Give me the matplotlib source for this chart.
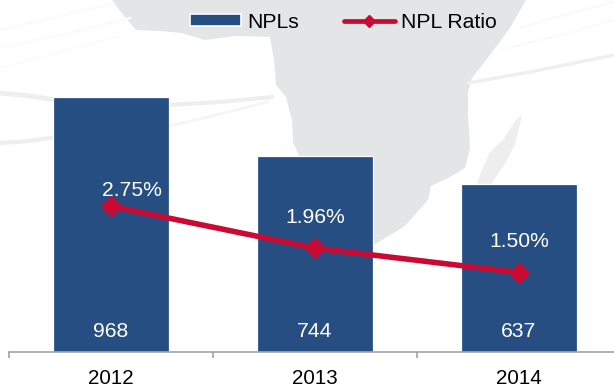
import matplotlib
matplotlib.use('Agg')
import matplotlib.pyplot as plt
from matplotlib.patches import Patch, Polygon
from matplotlib.lines import Line2D

plt.rcParams['font.family'] = ['Liberation Sans', 'DejaVu Sans']

years = ['2012', '2013', '2014']
npls = [968, 744, 637]
npl_ratio = [2.75, 1.96, 1.50]
ratio_labels = ['2.75%', '1.96%', '1.50%']

W, H = 614, 390
blue = '#264e82'
red = '#cb0a33'
map_grey = '#e4e5e7'

fig = plt.figure(figsize=(W / 100, H / 100), dpi=100)

# watermark behind the chart, in pixel coords
bg = fig.add_axes([0, 0, 1, 1], zorder=-1)
bg.set_xlim(0, W)
bg.set_ylim(H, 0)
bg.axis('off')

africa = [(112, 0), (124, 16), (136, 30), (160, 31), (182, 33), (205, 40), (235, 36), (270, 37),
          (274, 60), (276, 85), (286, 97), (292, 120), (293, 142), (300, 158), (330, 210),
          (372, 246), (405, 226), (428, 200), (431, 186), (448, 178), (465, 168), (470, 148),
          (468, 115), (468, 92), (472, 78), (490, 55), (510, 28), (526, 0)]
bg.add_patch(Polygon(africa, closed=True, fc=map_grey, ec='none'))
madagascar = [(522, 115), (516, 120), (503, 140), (490, 152), (482, 170), (476, 186), (490, 186), (504, 165),
              (515, 145)]
bg.add_patch(Polygon(madagascar, closed=True, fc='#eeeeef', ec='none'))

streaks = [([0, 30, 56], [93, 96, 100], 3.5, '#eeeeee'),
           ([168, 220, 272], [105, 102, 97], 3.0, '#eeeeee'),
           ([0, 30, 56], [143, 141, 137], 3.0, '#eeeeee'),
           ([170, 220, 268], [126, 114, 102], 2.0, '#f5f5f5'),
           ([468, 530, 614], [83, 72, 55], 2.5, '#efeff0'),
           ([0, 60, 112], [30, 16, 4], 2.0, '#fbfbfb'),
           ([0, 70, 130], [48, 33, 18], 2.0, '#fbfbfb'),
           ([0, 60, 120], [68, 52, 36], 2.0, '#fcfcfc'),
           ([520, 560, 614], [28, 16, 2], 2.0, '#fafafa'),
           ([500, 560, 614], [50, 35, 20], 2.0, '#fbfbfb')]
for sx, sy, lw, col in streaks:
    bg.plot(sx, sy, color=col, lw=lw, solid_capstyle='round')

# bars and axis
ax = fig.add_axes([9 / W, (H - 352) / H, 605 / W, 352 / H], zorder=1)
ax.patch.set_alpha(0)
x = range(len(years))
ax.bar(x, npls, width=0.565, color=blue, edgecolor='white', linewidth=0.9)
ax.set_xlim(-0.5, -0.5 + 605 / 204)
ax.set_ylim(0, 352 / 0.2634)

for s in ['top', 'left', 'right']:
    ax.spines[s].set_visible(False)
ax.spines['bottom'].set_color('#a3a3a3')
ax.spines['bottom'].set_linewidth(1.2)
ax.set_yticks([])
ax.set_xticks(list(x))
ax.set_xticklabels(years, fontsize=14.8, color='black')
ax.set_xticks([-0.5, 0.5, 1.5], minor=True)
ax.tick_params(axis='x', which='major', length=0, pad=12.4)
ax.tick_params(axis='x', which='minor', length=4.3, width=1.2, color='#a3a3a3')

for i, v in enumerate(npls):
    ax.annotate(str(v), (i, 0), xytext=(0, 15), textcoords='offset points',
                ha='center', va='center', color='white', fontsize=15.2)

# ratio line on its own scale
ax2 = ax.twinx()
ax2.patch.set_alpha(0)
ax2.set_ylim(0, 352 / 53)
ax2.axis('off')
ax2.plot(x, npl_ratio, color=red, lw=4, marker='D', ms=9.8, solid_capstyle='round')

label_offsets = [(15, 11), (0, 22), (0, 22.5)]
for i, v in enumerate(npl_ratio):
    ax2.annotate(ratio_labels[i], (i, v), xytext=label_offsets[i], textcoords='offset points',
                 ha='center', va='center', color='white', fontsize=15.2)

# legend
handles = [Patch(fc=blue, ec='white', lw=1.2),
           Line2D([], [], color=red, lw=3.4, marker='D', ms=6.5, solid_capstyle='round')]
fig.legend(handles, ['NPLs', 'NPL Ratio'], ncol=2, frameon=False, fontsize=15.2,
           loc='center left', bbox_to_anchor=(190 / W, 1 - 22 / H), handlelength=2.4,
           handleheight=0.45, handletextpad=0.3, columnspacing=2.15, borderpad=0, borderaxespad=0)

fig.savefig('out.png', dpi=100)
